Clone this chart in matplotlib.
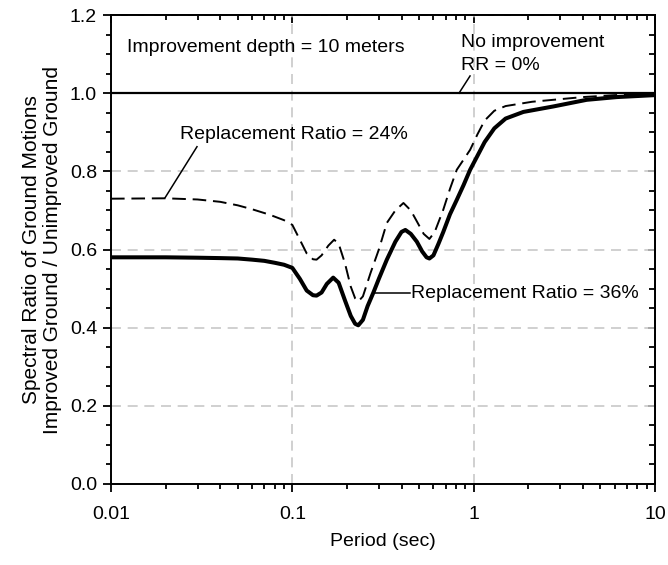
import matplotlib
matplotlib.use("Agg")
import matplotlib.pyplot as plt
from matplotlib.ticker import MultipleLocator, FixedLocator, FuncFormatter, LogLocator, NullFormatter

plt.rcParams['font.family'] = ['Liberation Sans', 'DejaVu Sans']

# Period (sec) and spectral ratio for replacement ratio 36 %
period_rr36 = [0.01, 0.02, 0.03, 0.04, 0.05, 0.06, 0.07, 0.08, 0.09, 0.1,
               0.11, 0.12, 0.13, 0.136, 0.145, 0.155, 0.168, 0.18, 0.195, 0.21,
               0.222, 0.231, 0.245, 0.26, 0.28, 0.30, 0.332, 0.37, 0.40, 0.42,
               0.45, 0.486, 0.52, 0.55, 0.57, 0.60, 0.64, 0.68, 0.74, 0.807,
               0.88, 0.956, 1.05, 1.15, 1.3, 1.5, 1.88, 2.75, 4.2, 6.15, 10.0]
ratio_rr36 = [0.58, 0.58, 0.579, 0.578, 0.577, 0.574, 0.571, 0.566, 0.561, 0.553,
              0.525, 0.495, 0.483, 0.482, 0.49, 0.512, 0.528, 0.515, 0.47, 0.43,
              0.41, 0.406, 0.42, 0.455, 0.49, 0.525, 0.574, 0.62, 0.645, 0.65,
              0.64, 0.62, 0.595, 0.58, 0.577, 0.585, 0.615, 0.645, 0.69, 0.727,
              0.765, 0.804, 0.84, 0.875, 0.91, 0.935, 0.952, 0.966, 0.983, 0.99, 0.995]

# Period (sec) and spectral ratio for replacement ratio 24 %
period_rr24 = [0.01, 0.02, 0.03, 0.04, 0.05, 0.06, 0.075, 0.09, 0.1, 0.11,
               0.12, 0.13, 0.136, 0.145, 0.158, 0.17, 0.18, 0.195, 0.21, 0.222,
               0.231, 0.245, 0.27, 0.30, 0.332, 0.37, 0.41, 0.45, 0.486, 0.53,
               0.57, 0.61, 0.68, 0.74, 0.807, 0.88, 0.956, 1.05, 1.15, 1.3,
               1.5, 2.1, 4.0, 6.0, 10.0]
ratio_rr24 = [0.73, 0.731, 0.728, 0.722, 0.713, 0.703, 0.689, 0.675, 0.663, 0.625,
              0.59, 0.575, 0.574, 0.585, 0.61, 0.625, 0.615, 0.565, 0.505, 0.475,
              0.467, 0.48, 0.54, 0.60, 0.668, 0.70, 0.719, 0.70, 0.672, 0.64,
              0.627, 0.645, 0.702, 0.755, 0.804, 0.83, 0.855, 0.895, 0.93, 0.955,
              0.967, 0.978, 0.99, 0.995, 0.998]

# Reference line: no improvement
period_rr0 = [0.01, 10.0]
ratio_rr0 = [1.0, 1.0]

x_ticks = [0.01, 0.1, 1, 10]
x_tick_labels = ['0.01', '0.1', '1', '10']
y_ticks = [0.0, 0.2, 0.4, 0.6, 0.8, 1.0, 1.2]

FS = 14

fig = plt.figure(figsize=(6.68, 5.65), dpi=100)
ax = fig.add_axes([111 / 668, 1 - 484 / 565, (655 - 111) / 668, (484 - 15) / 565])

ax.set_xscale('log')
ax.set_xlim(0.01, 10)
ax.set_ylim(0.0, 1.2)

ax.grid(True, which='major', color='#c8c8c8', linestyle=(0, (6, 4)), linewidth=1.2)
ax.set_axisbelow(True)

ax.plot(period_rr0, ratio_rr0, color='black', linewidth=1.6, zorder=3)
ax.plot(period_rr24, ratio_rr24, color='black', linewidth=1.4,
        linestyle=(0, (7, 3.5)), zorder=3)
ax.plot(period_rr36, ratio_rr36, color='black', linewidth=2.9, zorder=4,
        solid_joinstyle='round', solid_capstyle='round')

# Axis ticks
ax.xaxis.set_major_locator(FixedLocator(x_ticks))
ax.xaxis.set_major_formatter(FuncFormatter(lambda v, p: x_tick_labels[x_ticks.index(v)] if v in x_ticks else ''))
ax.xaxis.set_minor_locator(LogLocator(base=10, subs=range(2, 10)))
ax.xaxis.set_minor_formatter(NullFormatter())
ax.yaxis.set_major_locator(FixedLocator(y_ticks))
ax.yaxis.set_major_formatter(FuncFormatter(lambda v, p: f'{v:.1f}'))
ax.yaxis.set_minor_locator(MultipleLocator(0.05))

ax.tick_params(which='both', direction='out', width=1.3, labelsize=FS,
               top=False, right=False, colors='black')
ax.tick_params(which='major', length=6)
ax.tick_params(which='minor', length=3.5)
ax.tick_params(axis='x', pad=10)
ax.tick_params(axis='y', pad=4)

for sp in ax.spines.values():
    sp.set_linewidth(1.4)

# Inward ticks on top and right
top = ax.secondary_xaxis('top')
top.xaxis.set_major_locator(FixedLocator(x_ticks))
top.xaxis.set_minor_locator(LogLocator(base=10, subs=range(2, 10)))
top.xaxis.set_minor_formatter(NullFormatter())
top.tick_params(which='both', direction='in', width=1.3, labeltop=False)
top.tick_params(which='major', length=6)
top.tick_params(which='minor', length=3.5)
top.spines['top'].set_linewidth(1.4)

right = ax.secondary_yaxis('right')
right.yaxis.set_major_locator(FixedLocator(y_ticks))
right.yaxis.set_minor_locator(MultipleLocator(0.05))
right.tick_params(which='both', direction='in', width=1.3, labelright=False)
right.tick_params(which='major', length=5)
right.tick_params(which='minor', length=4)
right.spines['right'].set_linewidth(1.4)

ax.set_xlabel('Period (sec)', fontsize=FS, labelpad=7)
ax.set_ylabel('Spectral Ratio of Ground Motions\nImproved Ground / Unimproved Ground',
              fontsize=15, labelpad=6, linespacing=1.1)

# Annotations
ax.text(0.0122, 1.116, 'Improvement depth = 10 meters', fontsize=FS, va='center', ha='left')
ax.text(0.852, 1.117, 'No improvement', fontsize=FS, va='baseline', ha='left')
ax.text(0.852, 1.060, 'RR = 0%', fontsize=FS, va='baseline', ha='left')
ax.plot([0.83, 0.955], [1.0, 1.044], color='black', linewidth=1.1)

ax.text(0.024, 0.894, 'Replacement Ratio = 24%', fontsize=FS, va='center', ha='left')
ax.plot([0.0199, 0.0298], [0.733, 0.863], color='black', linewidth=1.1)

ax.text(0.452, 0.488, 'Replacement Ratio = 36%', fontsize=FS, va='center', ha='left')
ax.plot([0.28, 0.446], [0.488, 0.488], color='black', linewidth=1.1)

fig.savefig('out.png', dpi=100)
